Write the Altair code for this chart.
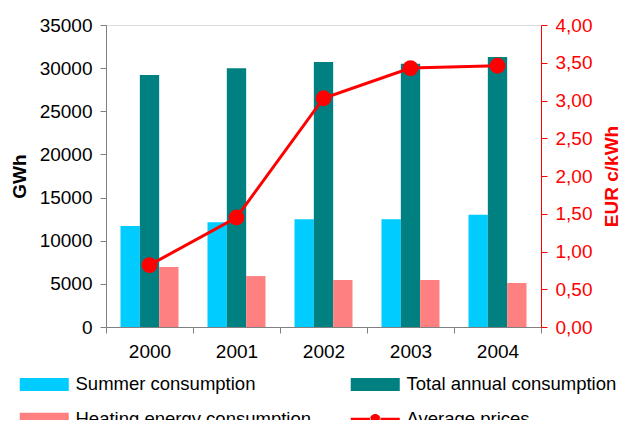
import altair as alt
import pandas as pd

years = ["2000", "2001", "2002", "2003", "2004"]
summer = [11700, 12150, 12500, 12500, 13000]
total = [29200, 30000, 30700, 30500, 31300]
heating = [6950, 5900, 5450, 5450, 5100]
prices = [0.82, 1.45, 3.03, 3.43, 3.46]

series = ["Summer consumption", "Total annual consumption",
          "Heating energy consumption", "Average prices"]
colors = ["#00CCFF", "#008080", "#FF8080", "#FF0000"]

RECT = "M-3.77,-1H3.77V1H-3.77Z"
LINEDOT = ("M-3.77,-0.23H-0.7V0.23H-3.77Z M0.7,-0.23H3.77V0.23H0.7Z "
           "M-0.82,0A0.82,0.82,0,1,0,0.82,0A0.82,0.82,0,1,0,-0.82,0Z")
shapes = [RECT, RECT, RECT, LINEDOT]

bars_df = pd.DataFrame({
    "year": years * 3,
    "series": [series[0]] * 5 + [series[1]] * 5 + [series[2]] * 5,
    "gwh": summer + total + heating,
})
price_df = pd.DataFrame({"year": years, "price": prices})
legend_df = pd.DataFrame({"series": series})

FONT = "Liberation Sans"
FS = 19
GRAY = "#808080"
RED = "#FF0000"

x_enc = alt.X("year:N", title=None, sort=years,
              scale=alt.Scale(paddingInner=0, paddingOuter=0),
              axis=alt.Axis(labelAngle=0, tickBand="extent", tickSize=6,
                            domainColor=GRAY, tickColor=GRAY,
                            labelColor="black", labelFontSize=FS,
                            labelPadding=9, labelFont=FONT))

color_scale = alt.Scale(domain=series, range=colors)
legend_def = alt.Legend(orient="none", legendX=-71, legendY=350,
                        direction="horizontal",
                        columns=2, title=None, padding=0,
                        symbolSize=169, symbolStrokeWidth=0,
                        symbolOpacity=1, labelFontSize=18.5,
                        labelFont=FONT, labelColor="black",
                        labelOffset=22, rowPadding=16,
                        columnPadding=38, labelLimit=400)

bars = alt.Chart(bars_df).mark_bar().encode(
    x=x_enc,
    xOffset=alt.XOffset("series:N", sort=series[:3],
                        scale=alt.Scale(domain=series[:3], paddingInner=0, paddingOuter=0.75)),
    y=alt.Y("gwh:Q", scale=alt.Scale(domain=[0, 35000], nice=False),
            axis=alt.Axis(values=list(range(0, 35001, 5000)), format="d",
                          title="GWh", titleFontWeight="bold", titleFontSize=FS,
                          titleColor="black", titleFont=FONT, titlePadding=10,
                          labelFontSize=FS, labelColor="black", labelFont=FONT,
                          domainColor=GRAY, tickColor=GRAY, tickSize=6,
                          labelPadding=8, grid=False)),
    color=alt.Color("series:N", scale=color_scale, legend=legend_def),
)

y_right = alt.Y("price:Q", scale=alt.Scale(domain=[0, 4], nice=False),
                axis=alt.Axis(orient="right", values=[0, 0.5, 1, 1.5, 2, 2.5, 3, 3.5, 4],
                              labelExpr="replace(format(datum.value, '.2f'), '.', ',')",
                              title="EUR c/kWh", titleAngle=270, titleBaseline="top",
                              titleFontWeight="bold",
                              titleFontSize=FS, titleColor=RED, titleFont=FONT,
                              titlePadding=11,
                              labelFontSize=FS, labelColor=RED, labelFont=FONT,
                              domainColor=RED, tickColor=RED, tickSize=6,
                              labelPadding=8, grid=False))

line = alt.Chart(price_df).mark_line(color=RED, strokeWidth=3).encode(
    x=alt.X("year:N", sort=years), y=y_right)
points = alt.Chart(price_df).mark_point(filled=True, color=RED, size=250, opacity=1).encode(
    x=alt.X("year:N", sort=years), y=y_right)

leg = alt.Chart(legend_df).mark_point(filled=True, opacity=0).encode(
    color=alt.Color("series:N", scale=color_scale, legend=legend_def),
    shape=alt.Shape("series:N", scale=alt.Scale(domain=series, range=shapes),
                    legend=legend_def),
)

right = alt.layer(line, points, leg)

chart = alt.layer(bars, right).resolve_scale(y="independent").properties(
    width=435, height=302,
    autosize=alt.AutoSizeParams(type="none"),
    padding={"left": 98, "top": 17, "right": 80, "bottom": 93},
).configure_view(stroke=None).configure(font=FONT)

chart.save("out.html", embed_options={"renderer": "svg", "actions": False})
